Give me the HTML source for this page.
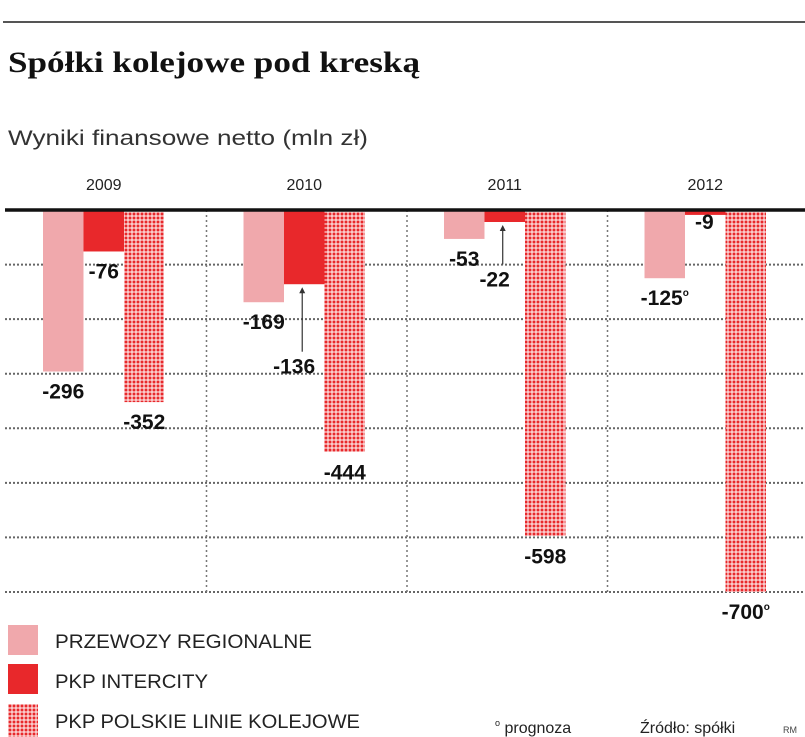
<!DOCTYPE html>
<html><head><meta charset="utf-8"><style>
body{margin:0;background:#fff;}
svg{display:block;font-family:"Liberation Sans",sans-serif;}
</style></head><body>
<svg width="805" height="737" viewBox="0 0 805 737">
<defs>
<pattern id="dots" width="4" height="4" patternUnits="userSpaceOnUse">
<rect width="4" height="4" fill="#fff"/><rect x="0.5" y="0.5" width="3" height="3" fill="#e8282b"/>
</pattern>
</defs>
<line x1="3" y1="22" x2="805" y2="22" stroke="#555" stroke-width="2"/>
<text x="8" y="72" font-family="Liberation Serif, serif" font-weight="bold" font-size="30" fill="#111" textLength="412" lengthAdjust="spacingAndGlyphs">Spółki kolejowe pod kreską</text>
<text x="8" y="145" font-size="21" fill="#333" textLength="360" lengthAdjust="spacingAndGlyphs">Wyniki finansowe netto (mln zł)</text>
<g id="grid"></g>
<g id="bars"></g>
<g id="labels"></g>
<g>
<rect x="8" y="625" width="30" height="30" fill="#f0a8ac"/>
<text x="55" y="648" font-size="19" fill="#222" textLength="257" lengthAdjust="spacingAndGlyphs">PRZEWOZY REGIONALNE</text>
<rect x="8" y="664" width="30" height="30" fill="#e8282b"/>
<text x="55" y="688" font-size="19" fill="#222" textLength="153" lengthAdjust="spacingAndGlyphs">PKP INTERCITY</text>
<rect x="8" y="704" width="30" height="33" fill="url(#dots)"/>
<text x="55" y="728" font-size="19" fill="#222" textLength="305" lengthAdjust="spacingAndGlyphs">PKP POLSKIE LINIE KOLEJOWE</text>
</g>
<text x="495" y="733" font-size="16" fill="#222"><tspan font-size="9" dy="-7">o</tspan><tspan dy="7"> prognoza</tspan></text>
<text x="640" y="733" font-size="16" fill="#222">Źródło: spółki</text>
<text x="783" y="733" font-size="9" fill="#444">RM</text>
</svg>
<script>
const years = ["2009","2010","2011","2012"];
const przewozy = [-296,-169,-53,-125];
const intercity = [-76,-136,-22,-9];
const plk = [-352,-444,-598,-700];
const forecast = [false,false,false,true];
const gridTicks = [0,-100,-200,-300,-400,-500,-600,-700];

const NS="http://www.w3.org/2000/svg";
const y0=210, k=382/700;
const yS=v=>y0-v*k;
const gx=i=>43+i*200.5;
const bw=40.5;
function mk(tag,attrs,parent){const e=document.createElementNS(NS,tag);for(const a in attrs)e.setAttribute(a,attrs[a]);parent.appendChild(e);return e;}
const grid=document.getElementById('grid'),bars=document.getElementById('bars'),labels=document.getElementById('labels');

gridTicks.forEach(t=>{if(t===0)return;
 const l=mk('line',{x1:5,x2:805,y1:yS(t),y2:yS(t),stroke:'#666','stroke-width':2,'stroke-dasharray':'2 2'},grid);
 
 
});
[206.5,407,607.5].forEach(x=>{
 const l=mk('line',{x1:x,x2:x,y1:y0,y2:yS(-700),stroke:'#777','stroke-width':1.5,'stroke-dasharray':'2 3'},grid);
 
 
});
const series=[{v:przewozy,f:'#f0a8ac',n:'przewozy'},{v:intercity,f:'#e8282b',n:'intercity'},{v:plk,f:'url(#dots)',n:'plk'}];
years.forEach((yr,i)=>{
 const t=mk('text',{x:gx(i)+bw*1.5,y:190,'text-anchor':'middle','font-size':16,fill:'#222'},labels);
 t.textContent=yr;
 
 
 series.forEach((s,j)=>{
  const v=s.v[i],x=gx(i)+j*bw;
  const r=mk('rect',{x:x,y:y0,width:bw,height:yS(v)-y0,fill:s.f},bars);
  
  
  let lx=x+bw/2, ly=yS(v)+27, anchor='middle';
  if(j===1 && v>-15){ly=yS(v)+14; anchor='start'; lx=x+10;}
  else if(j===1 && i>0){
   const arrowTop=yS(v)+3, lyy=(i===1)?yS(-300):yS(-140);
   const a=mk('line',{x1:x+bw*0.45,x2:x+bw*0.45,y1:arrowTop+2,y2:lyy-22,stroke:'#333','stroke-width':1.2},bars);
   
   
   mk('path',{d:`M${x+bw*0.45-3} ${arrowTop+6}L${x+bw*0.45} ${arrowTop}L${x+bw*0.45+3} ${arrowTop+6}Z`,fill:'#333'},bars);
   lx=x+bw*0.25; ly=lyy;
  }
  const lt=mk('text',{x:lx,y:ly,'text-anchor':anchor,'font-size':21,'font-weight':'bold',fill:'#111'},labels);
  lt.textContent=String(v);
  if(forecast[i] && j!==1){const sp=mk('tspan',{'font-size':10,dy:-9},lt);sp.textContent='o';}
  
  
 });
});
const z=mk('line',{x1:5,x2:805,y1:y0,y2:y0,stroke:'#111','stroke-width':3.5},bars);


</script>
</body></html>
